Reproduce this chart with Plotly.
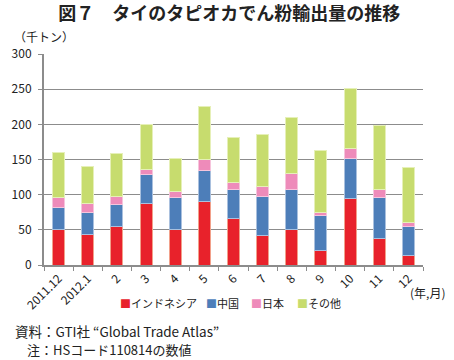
import plotly.graph_objects as go

categories = ["2011.12", "2012.1", "2", "3", "4", "5", "6", "7", "8", "9", "10", "11", "12"]
indonesia = [51, 44, 55, 88, 50, 90, 66, 42, 51, 21, 94, 37, 13]
china = [31, 31, 31, 41, 46, 45, 42, 55, 57, 49, 58, 59, 42]
japan = [14, 12, 12, 7, 8, 15, 10, 15, 22, 5, 14, 12, 6]
others = [64, 53, 60, 64, 48, 75, 63, 74, 80, 88, 85, 91, 77]

series = [
    ("インドネシア", indonesia, "#E8222B", "#F2A08A"),
    ("中国", china, "#4D7EB9", "#A9C0DE"),
    ("日本", japan, "#EE8BBA", "#F6C4DC"),
    ("その他", others, "#C7DC6E", "#E6F0B8"),
]
legend_x = [0.1958, 0.423, 0.5405, 0.6632]

FONT = "Noto Sans CJK JP"

fig = go.Figure()
for name, vals, col, edge in series:
    fig.add_trace(go.Bar(
        x=categories, y=vals, name=name,
        marker=dict(color=col, line=dict(color=edge, width=1)),
    ))

fig.update_layout(
    barmode="stack",
    bargap=0.59,
    width=454, height=360,
    margin=dict(l=40, r=31, t=54, b=95),
    paper_bgcolor="white", plot_bgcolor="white",
    font=dict(family=FONT, size=12, color="#222"),
    showlegend=False,
    title=dict(text="<b>図７　タイのタピオカでん粉輸出量の推移</b>", x=0.505, xanchor="center",
               y=0.962, yanchor="middle", font=dict(size=18, family=FONT, color="#222")),
)
fig.update_yaxes(range=[0, 300], dtick=50, showgrid=True, gridcolor="#8C8C8C", gridwidth=1,
                 showline=True, linecolor="#8C8C8C", linewidth=2, ticks="outside", ticklen=4,
                 tickcolor="#8C8C8C", tickfont=dict(size=12), zeroline=False,
                 ticklabelstandoff=4)
fig.update_xaxes(showline=True, linecolor="#8C8C8C", linewidth=2, ticks="outside", ticklen=4,
                 tickcolor="#8C8C8C", tickson="boundaries", tickangle=-45,
                 tickfont=dict(size=12), showgrid=False)

for (name, vals, col, edge), lx in zip(series, legend_x):
    fig.add_annotation(text=f"<span style='color:{col}'>■</span>{name}", xref="paper", yref="paper",
                       x=lx, y=-0.18, xanchor="left", yanchor="middle", showarrow=False,
                       font=dict(size=11))

fig.add_annotation(text="（千トン）", xref="paper", yref="paper", x=-0.0836, y=1.085,
                   xanchor="left", yanchor="middle", showarrow=False, font=dict(size=12))
fig.add_annotation(text="(年,月)", xref="paper", yref="paper", x=1.0627, y=-0.128,
                   xanchor="right", yanchor="middle", showarrow=False, font=dict(size=12))
fig.add_annotation(text="資料：GTI社 “Global Trade Atlas”", xref="paper", yref="paper",
                   x=-0.083, y=-0.311, xanchor="left", yanchor="middle", showarrow=False,
                   font=dict(size=13.5))
fig.add_annotation(text="注：HSコード110814の数値", xref="paper", yref="paper",
                   x=-0.05, y=-0.40, xanchor="left", yanchor="middle", showarrow=False,
                   font=dict(size=13))

fig.write_html("out.html", config={"displayModeBar": False},
               post_script="document.body.style.margin='0';")
